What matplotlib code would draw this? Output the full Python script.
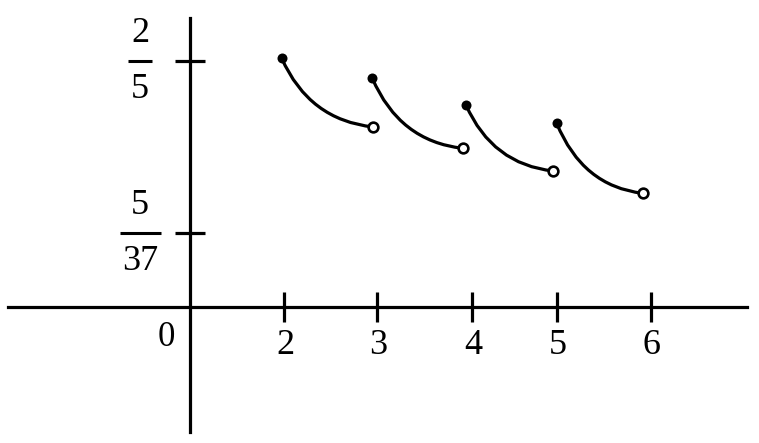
import matplotlib
matplotlib.use("Agg")
import matplotlib.pyplot as plt
from matplotlib.path import Path
from matplotlib.patches import PathPatch

# ---- data (diagram units; origin at the axes crossing) ----
x_tick_pos = [0.94, 1.87, 2.82, 3.67, 4.61]
x_tick_labels = ["2", "3", "4", "5", "6"]
y_tick_pos = [2.46, 0.74]
y_num = ["2", "5"]
y_den = ["5", "37"]

seg_x_start = [0.917, 1.823, 2.760, 3.667]
seg_y_start = [2.487, 2.287, 2.020, 1.837]
seg_x_end = [1.833, 2.727, 3.633, 4.527]
seg_y_end = [1.800, 1.587, 1.360, 1.137]

FONT = ["Liberation Serif", "DejaVu Serif"]
LW = 2.3

fig = plt.figure(figsize=(7.59, 4.43), dpi=100)
ax = fig.add_axes([0, 0, 1, 1])
ax.set_xlim(-1.90, 5.69)
ax.set_ylim(-1.36, 3.07)

# axes through the origin
for side in ["top", "right"]:
    ax.spines[side].set_visible(False)
ax.spines["left"].set_position(("data", 0))
ax.spines["bottom"].set_position(("data", 0))
ax.spines["left"].set_bounds(-1.25, 2.89)
ax.spines["bottom"].set_bounds(-1.82, 5.57)
for s in ["left", "bottom"]:
    ax.spines[s].set_linewidth(LW)
    ax.spines[s].set_color("black")

ax.set_xticks(x_tick_pos)
ax.set_yticks(y_tick_pos)
ax.set_xticklabels([])
ax.set_yticklabels([])
ax.tick_params(axis="both", direction="inout", length=21.6, width=LW, color="black")

# x tick labels
for xp, lab in zip(x_tick_pos, x_tick_labels):
    ax.text(xp + 0.01, -0.39, lab, ha="center", va="center",
            fontsize=26, family=FONT)
ax.text(-0.235, -0.31, "0", ha="center", va="center", fontsize=25, family=FONT)

# y tick labels as stacked fractions
frac_cx = -0.50
for yp, n, d in zip(y_tick_pos, y_num, y_den):
    ax.text(frac_cx, yp + 0.27, n, ha="center", va="center", fontsize=26, family=FONT)
    ax.text(frac_cx, yp - 0.28, d, ha="center", va="center", fontsize=26, family=FONT)
    half = 0.12 if len(d) == 1 else 0.205
    ax.plot([frac_cx - half, frac_cx + half], [yp, yp], color="black",
            lw=2.2, solid_capstyle="butt")

# curve pieces
for x0, y0, x1, y1 in zip(seg_x_start, seg_y_start, seg_x_end, seg_y_end):
    cx = x0 + 0.30 * (x1 - x0)
    cy = y0 + 0.90 * (y1 - y0)
    path = Path([(x0, y0), (cx, cy), (x1, y1)],
                [Path.MOVETO, Path.CURVE3, Path.CURVE3])
    ax.add_patch(PathPatch(path, facecolor="none", edgecolor="black",
                           lw=LW, zorder=3))

ax.plot(seg_x_start, seg_y_start, "o", color="black", ms=7.2, mew=0, zorder=5)
ax.plot(seg_x_end, seg_y_end, "o", mfc="white", mec="black", ms=7.0,
        mew=1.9, zorder=5)

fig.savefig("out.png", dpi=100, facecolor="white")
